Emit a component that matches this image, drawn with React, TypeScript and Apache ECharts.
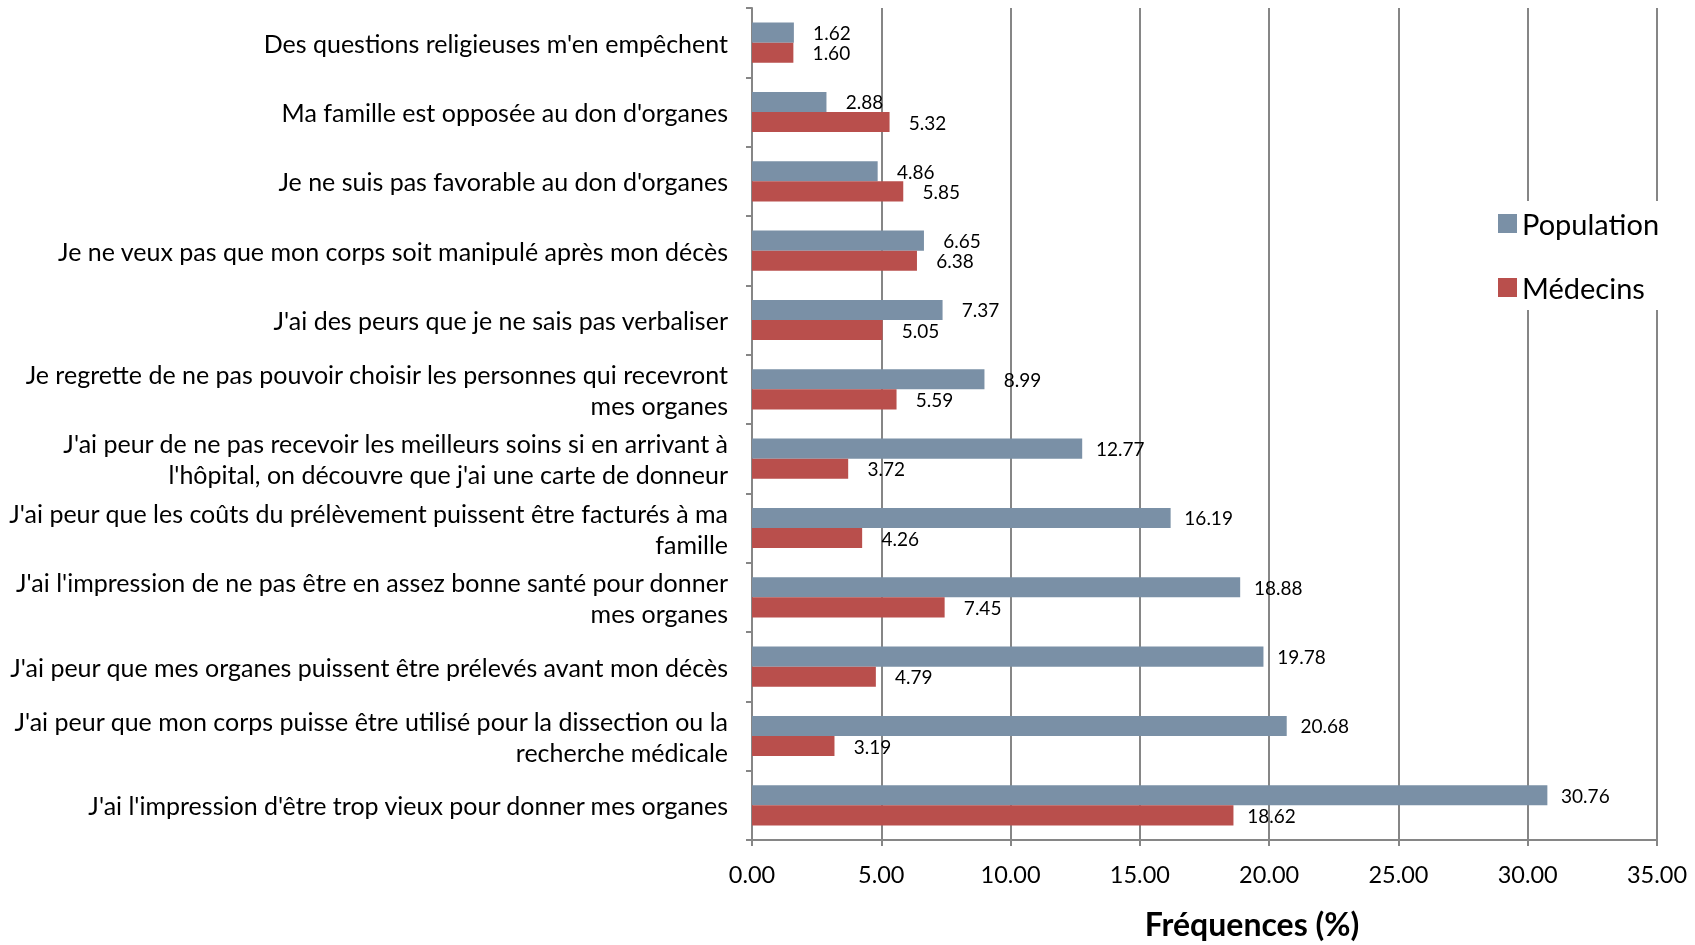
import React, { useEffect, useRef } from "react";
import * as echarts from "echarts";

const categories = [
  "Des questions religieuses m'en empêchent",
  "Ma famille est opposée au don d'organes",
  "Je ne suis pas favorable au don d'organes",
  "Je ne veux pas que mon corps soit manipulé après mon décès",
  "J'ai des peurs que je ne sais pas verbaliser",
  "Je regrette de ne pas pouvoir choisir les personnes qui recevront\nmes organes",
  "J'ai peur de ne pas recevoir les meilleurs soins si en arrivant à\nl'hôpital, on découvre que j'ai une carte de donneur",
  "J'ai peur que les coûts du prélèvement puissent être facturés à ma\nfamille",
  "J'ai l'impression de ne pas être en assez bonne santé pour donner\nmes organes",
  "J'ai peur que mes organes puissent être prélevés avant mon décès",
  "J'ai peur que mon corps puisse être utilisé pour la dissection ou la\nrecherche médicale",
  "J'ai l'impression d'être trop vieux pour donner mes organes",
];

const population = [1.62, 2.88, 4.86, 6.65, 7.37, 8.99, 12.77, 16.19, 18.88, 19.78, 20.68, 30.76];
const medecins = [1.6, 5.32, 5.85, 6.38, 5.05, 5.59, 3.72, 4.26, 7.45, 4.79, 3.19, 18.62];

const seriesNames = ["Population", "Médecins"];
const axisTitle = "Fréquences (%)";

const FONT = "Lato, 'Open Sans', sans-serif";

export default function App() {
  const ref = useRef<HTMLDivElement>(null);

  useEffect(() => {
    if (!ref.current) return;
    const chart = echarts.init(ref.current, undefined, { renderer: "svg" });
    const label = {
      show: true,
      position: "right" as const,
      distance: 38,
      align: "center" as const,
      color: "#000",
      fontSize: 19,
      fontFamily: FONT,
      formatter: (p: any) => Number(p.value).toFixed(2),
    };
    chart.setOption({
      animation: false,
      textStyle: { fontFamily: FONT },
      grid: { left: 752, right: 38, top: 8, bottom: 105, containLabel: false },
      legend: {
        orient: "vertical",
        left: 1488,
        top: 201,
        itemWidth: 19,
        itemHeight: 19,
        itemGap: 35,
        icon: "rect",
        backgroundColor: "#fff",
        padding: [8, 10, 8, 10],
        textStyle: { fontSize: 29, color: "#000", fontFamily: FONT },
        data: seriesNames,
      },
      xAxis: {
        type: "value",
        min: 0,
        max: 35,
        interval: 5,
        axisLine: { show: true, lineStyle: { color: "#868686", width: 2 } },
        axisTick: { show: true, length: 6, lineStyle: { color: "#868686", width: 2 } },
        splitLine: { show: true, lineStyle: { color: "#868686", width: 2 } },
        axisLabel: {
          formatter: (v: number) => v.toFixed(2),
          fontSize: 23.5,
          color: "#000",
          margin: 22,
          fontFamily: FONT,
        },
      },
      yAxis: {
        type: "category",
        inverse: true,
        data: categories,
        axisLine: { show: true, lineStyle: { color: "#868686", width: 2 } },
        axisTick: { show: true, length: 6, lineStyle: { color: "#868686", width: 2 } },
        axisLabel: {
          fontSize: 25,
          color: "#000",
          margin: 24,
          lineHeight: 31,
          align: "right",
          fontFamily: FONT,
        },
      },
      series: [
        {
          name: seriesNames[0],
          type: "bar",
          data: population,
          itemStyle: { color: "#7a90a6" },
          barGap: "0%",
          barCategoryGap: "42%",
          label,
        },
        {
          name: seriesNames[1],
          type: "bar",
          data: medecins,
          itemStyle: { color: "#b94f4c" },
          barGap: "0%",
          barCategoryGap: "42%",
          label,
        },
      ],
      graphic: [
        {
          type: "text",
          x: 1252,
          y: 923,
          style: {
            text: axisTitle,
            fontSize: 32,
            fontWeight: "bold",
            fill: "#000",
            fontFamily: FONT,
            textAlign: "center",
            textVerticalAlign: "middle",
          },
        },
      ],
    });
    return () => chart.dispose();
  }, []);

  return (
    <div
      ref={ref}
      style={{ position: "fixed", left: 0, top: 0, width: 1695, height: 945 }}
    />
  );
}
